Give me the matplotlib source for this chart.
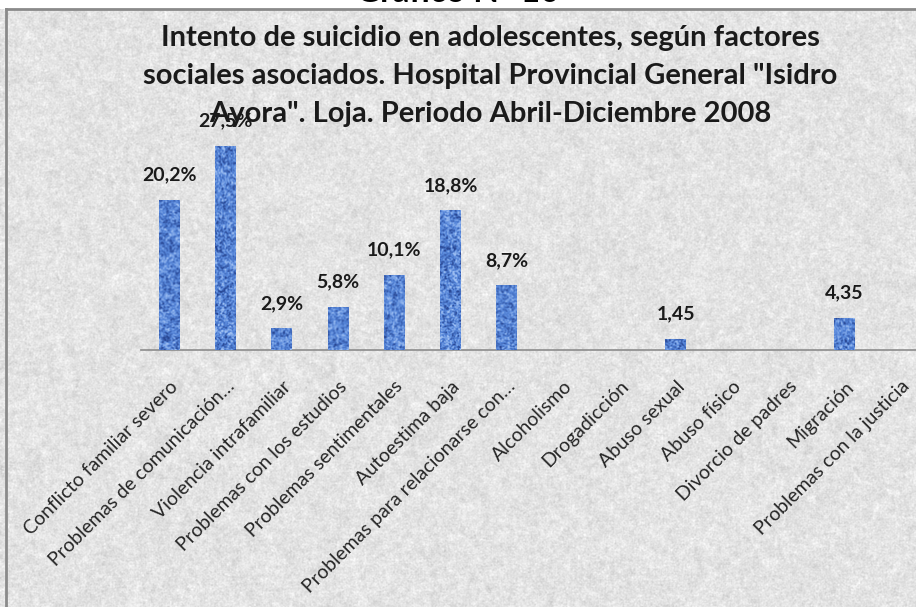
import numpy as np
import matplotlib
matplotlib.use("Agg")
from matplotlib import pyplot as plt
from matplotlib.lines import Line2D

categorias = [
    "Conflicto familiar severo",
    "Problemas de comunicación…",
    "Violencia intrafamiliar",
    "Problemas con los estudios",
    "Problemas sentimentales",
    "Autoestima baja",
    "Problemas para relacionarse con…",
    "Alcoholismo",
    "Drogadicción",
    "Abuso sexual",
    "Abuso físico",
    "Divorcio de padres",
    "Migración",
    "Problemas con la justicia",
]
porcentajes = [20.2, 27.5, 2.9, 5.8, 10.1, 18.8, 8.7, 0, 0, 1.45, 0, 0, 4.35, 0]
etiquetas = ["20,2%", "27,5%", "2,9%", "5,8%", "10,1%", "18,8%", "8,7%",
             "", "", "1,45", "", "", "4,35", ""]

titulo = ("Intento de suicidio en adolescentes, según factores\n"
          "sociales asociados. Hospital Provincial General \"Isidro\n"
          "Ayora\". Loja. Periodo Abril-Diciembre 2008")

plt.rcParams["font.family"] = ["Lato", "DejaVu Sans"]

W, H = 916, 607
fig = plt.figure(figsize=(W / 100, H / 100), dpi=100)
fig.patch.set_facecolor("white")

rng = np.random.default_rng(11)


def blur(a, k):
    kern = np.ones(k) / k
    norm = np.ones_like(a)
    for axis in (0, 1):
        a = np.apply_along_axis(lambda r: np.convolve(r, kern, mode="same"), axis, a)
        norm = np.apply_along_axis(lambda r: np.convolve(r, kern, mode="same"), axis, norm)
    return a / norm


def granite(h, w, wf=0.9, wm=1.6, wc=2.5):
    fine = blur(rng.standard_normal((h, w)), 2)
    mid = blur(rng.standard_normal((h, w)), 5)
    coarse = blur(rng.standard_normal((h, w)), 14)
    return wf * fine + wm * mid + wc * coarse


# textured chart-area background
tex = granite(H, W)
gray = np.clip(0.893 + 0.042 * tex, 0.75, 0.985)
bg = np.dstack([gray, gray, gray])
bg[:9, :, :] = 1.0
ax_bg = fig.add_axes([0, 0, 1, 1], zorder=0)
ax_bg.imshow(bg, extent=(0, W, H, 0), aspect="auto", interpolation="bilinear")
ax_bg.set_xlim(0, W)
ax_bg.set_ylim(H, 0)
ax_bg.axis("off")
ax_bg.add_line(Line2D([6, W], [9, 9], color="#8a8a8a", lw=2))
ax_bg.add_line(Line2D([6, 6], [9, H], color="#8a8a8a", lw=2))

# heading above the chart frame, mostly outside the page
fig.text(0.5, 1 - 1.5 / H, "Gráfico N° 10", ha="center", va="baseline",
         fontsize=24, fontweight="bold", color="black", zorder=5)

# bar axes
x0 = 141 / W
y0 = 1 - 350 / H
ax = fig.add_axes([x0, y0, 788 / W, 223 / H], zorder=2)
ax.patch.set_alpha(0)
n = len(categorias)
xs = np.arange(n)
bars = ax.bar(xs, porcentajes, width=0.37, color="#5383d6", zorder=2)
ax.set_xlim(-0.5, n - 0.5)
ax.set_ylim(0, 30)

# speckled blue fill clipped to each bar
bt = granite(223, 788, wf=1.6, wm=1.8, wc=1.0)
blue_base = np.array([0.33, 0.52, 0.85])
blue_dark = np.array([0.16, 0.28, 0.58])
blue_light = np.array([0.62, 0.75, 0.95])
t = np.clip(0.5 + 0.24 * bt, 0, 1)[..., None]
blue = np.where(t < 0.5, blue_dark + (blue_base - blue_dark) * (t / 0.5),
                blue_base + (blue_light - blue_base) * ((t - 0.5) / 0.5))
for b, v in zip(bars, porcentajes):
    if v <= 0:
        continue
    im = ax.imshow(blue, extent=(-0.5, n - 0.5, 0, 30), aspect="auto",
                   interpolation="bilinear", zorder=3)
    im.set_clip_path(b)

for i, (v, lab) in enumerate(zip(porcentajes, etiquetas)):
    if lab:
        ax.annotate(lab, (xs[i], v), xytext=(0, 18), textcoords="offset points",
                    ha="center", va="center", fontsize=14, fontweight="bold",
                    color="#1a1a1a", zorder=4)

for s in ["top", "right", "left"]:
    ax.spines[s].set_visible(False)
ax.spines["bottom"].set_color("#8c8c8c")
ax.spines["bottom"].set_linewidth(1.2)
ax.set_yticks([])
ax.set_xticks(xs)
ax.set_xticklabels(categorias, rotation=45, ha="right", rotation_mode="anchor",
                   fontsize=14, color="#262626")
ax.tick_params(axis="x", length=0, pad=20)

fig.text(0.535, 1 - 76 / H, titulo, ha="center", va="center", fontsize=21,
         fontweight="bold", color="#1a1a1a", linespacing=1.55, zorder=6)

fig.savefig("out.png", dpi=100)
